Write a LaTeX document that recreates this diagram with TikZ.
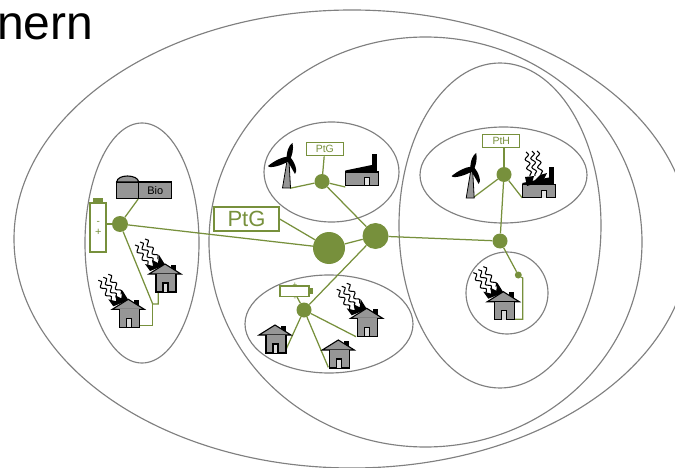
\documentclass[tikz,border=0pt]{standalone}
\usepackage{fontspec}
\setmainfont{Liberation Sans}
\usetikzlibrary{decorations.pathmorphing}
\definecolor{grn}{HTML}{77903C}
\definecolor{bld}{HTML}{969696}
\definecolor{rim}{HTML}{808080}
\tikzset{
  zone/.style={draw=rim,line width=1.15pt,fill=none},
  link/.style={draw=grn,line width=1.25pt},
  hub/.style={circle,fill=grn,draw=none,inner sep=0pt,minimum size=#1},
  lbl/.style={draw=grn,line width=1.3pt,fill=white,text=grn,inner sep=0pt,align=center},
  wisp/.style={draw=black,line width=1.05pt,decorate,decoration={snake,amplitude=2.1pt,segment length=9pt}},
  house/.pic={
    \fill[black] (6,0.5) rectangle (11,8);
    \fill[bld] (-16,10) -- (0,0) -- (16,10) -- cycle;
    \draw[black,line width=1.1pt] (-16,10) -- (0,0) -- (16,10) -- cycle;
    \fill[bld] (-9,10) rectangle (11,28);
    \draw[black,line width=1.1pt] (-9,10) -- (-9,28) -- (11,28) -- (11,10);
    \fill[bld!35] (-2,19) rectangle (3,28);
    \draw[black,line width=1.1pt] (-2,28) -- (-2,19) -- (3,19) -- (3,28);
  },
  smoke/.pic={
    \draw[wisp] (-30,-19) -- (-17,1);
    \draw[wisp] (-25,-22) -- (-12,-2);
    \draw[wisp] (-20,-25) -- (-7,-5);
    \fill[black] (-15,7) -- (-20,0) -- (-12,2) -- (-13,-4) -- (-7,-1) -- (-6,-9) -- (-1,-1) -- (0,1) -- cycle;
  },
  turbine/.pic={
    \fill[bld] (-5.5,29) -- (-1,2) -- (1,2) -- (2.5,29) -- cycle;
    \draw[black,line width=0.8pt] (-5.5,29) -- (-1,2) -- (1,2) -- (2.5,29) -- cycle;
    \fill[black] (-1.5,1) .. controls (-1.5,-8) and (1,-14) .. (4.5,-16) .. controls (6,-10) and (4,-3) .. (1.5,2) -- cycle;
    \fill[black] (0,-2.5) .. controls (-6,-2) and (-14,2) .. (-20,7) .. controls (-19,10) and (-6,6.5) .. (1,2) -- cycle;
    \fill[black] (-2,0) .. controls (1,4) and (4,10) .. (7,15) .. controls (10,13) and (7,3) .. (2,-2) -- cycle;
  },
  plant/.pic={
    \fill[black] (26.5,-17.7) rectangle (32,0);
    \fill[bld] (0,0) rectangle (33,13.3);
    \draw[black,line width=1.1pt] (0,13.3) -- (0,0) -- (33,0) -- (33,13.3) -- cycle;
    \fill[black] (0,-1.5) -- (26.5,-7) -- (26.5,0) -- (0,0) -- cycle;
    \fill[bld!25] (19,5.7) rectangle (23.7,13.3);
    \draw[black,line width=1pt] (19,13.3) -- (19,5.7) -- (23.7,5.7) -- (23.7,13.3);
  }
}
\begin{document}
\begin{tikzpicture}[x=1pt,y=-1pt]
\useasboundingbox (0,0) rectangle (675,468);
\clip (0,0) rectangle (675,468);
\node[anchor=base west,font=\fontsize{48}{48}\selectfont,inner sep=0pt] (title) at (-3,40) {nern};
% zones
\draw[zone] (352,239) ellipse [x radius=338,y radius=229];
\draw[zone] (425.5,242) ellipse [x radius=216.5,y radius=205];
\draw[zone] (500,225.5) ellipse [x radius=101,y radius=162.5];
\draw[zone] (142,243) ellipse [x radius=57,y radius=120];
\draw[zone] (331.5,172) ellipse [x radius=67.5,y radius=50];
\draw[zone] (503.5,175) ellipse [x radius=83.5,y radius=48];
\draw[zone] (329,324) ellipse [x radius=84,y radius=49];
\draw[zone] (507,293) circle [radius=41];
% hubs and labels
\node[hub=16pt] (hl) at (120,224) {};
\node[hub=32pt] (hbig) at (329,248) {};
\node[hub=26pt] (hmid) at (375.5,236) {};
\node[hub=15pt] (htop) at (322,181.5) {};
\node[hub=15pt] (hpth) at (504,174.5) {};
\node[hub=15pt] (hr) at (500,241) {};
\node[hub=15pt] (hbot) at (304,310) {};
\node[hub=7pt] (hsm) at (518.3,275) {};
\node[lbl,minimum width=65pt,minimum height=24pt,font=\fontsize{22}{22}\selectfont] (ptgbig) at (246.5,219) {PtG};
\node[lbl,minimum width=37pt,minimum height=13pt,font=\fontsize{10.5}{10.5}\selectfont] (ptg) at (324.8,149.2) {PtG};
\node[lbl,minimum width=37pt,minimum height=13pt,font=\fontsize{10.5}{10.5}\selectfont] (pth) at (501.3,140.7) {PtH};
\node[draw=black,line width=1.1pt,fill=bld,minimum width=22pt,minimum height=16.5pt,inner sep=0pt] (biodome) at (127.7,190.3) {};
\node[draw=black,line width=1.1pt,fill=bld,minimum width=33pt,minimum height=16.5pt,inner sep=0pt,font=\fontsize{11}{11}\selectfont] (bio) at (155.2,190.3) {Bio};
\node[lbl,minimum width=16pt,minimum height=49pt,fill=none] (batl) at (98,227.5) {};
\node[fill=grn,inner sep=0pt,minimum width=10pt,minimum height=5pt] (capl) at (98.3,200.3) {};
\node[text=grn,inner sep=0pt,font=\fontsize{10}{10}\selectfont] (minusl) at (98.3,223) {-};
\node[text=grn,inner sep=0pt,font=\fontsize{11}{11}\selectfont] (plusl) at (98.3,232.5) {+};
\node[lbl,minimum width=29pt,minimum height=10.5pt,fill=none] (batb) at (294.5,291.3) {};
\node[fill=grn,inner sep=0pt,minimum width=3.5pt,minimum height=6pt] (capb) at (310.8,291.3) {};
\node[text=grn,inner sep=0pt,font=\fontsize{8}{8}\selectfont] (plusb) at (295,285.5) {+};
\node[text=grn,inner sep=0pt,font=\fontsize{8}{8}\selectfont] (minusb) at (295,299) {-};
% free ends
\coordinate (j1) at (152.7,304);
\coordinate (j2) at (158.3,304);
\coordinate (h1) at (158.3,292.3);
\coordinate (j3) at (152.7,325.8);
\coordinate (h2) at (138.5,325.8);
\coordinate (wt1) at (290,188.3);
\coordinate (fa1) at (345.3,187);
\coordinate (wt2) at (474,197);
\coordinate (fa2) at (522.3,198);
\coordinate (s1) at (522.7,278);
\coordinate (s2) at (522.7,319.3);
\coordinate (s3) at (514,319.3);
\coordinate (ha) at (285,351.7);
\coordinate (hb) at (328.3,367.3);
\coordinate (hc) at (356,336.7);
\coordinate (bb) at (297,297);
% connectors
\draw[link] (hl) -- (bio.south west);
\draw[link] (hl) -- (batl.east |- hl);
\draw[link] (hl) -- (hbig);
\draw[link] (hl) -- (j1) -- (j2) -- (h1);
\draw[link] (j1) -- (j3) -- (h2);
\draw[link] (ptgbig.east) -- (hbig);
\draw[link] (hbig) -- (hmid);
\draw[link] (hmid) -- (htop);
\draw[link] (hmid) -- (hbot);
\draw[link] (hmid) -- (hr);
\draw[link] (htop) -- (wt1);
\draw[link] (htop) -- (fa1);
\draw[link] (htop) -- (ptg);
\draw[link] (hpth) -- (wt2);
\draw[link] (hpth) -- (fa2);
\draw[link] (hpth) -- (pth.south -| hpth);
\draw[link] (hpth) -- (hr);
\draw[link] (hr) -- (hsm);
\draw[link] (hsm) -- (s1) -- (s2) -- (s3);
\draw[link] (hbot) -- (bb);
\draw[link] (hbot) -- (ha);
\draw[link] (hbot) -- (hb);
\draw[link] (hbot) -- (hc);
% Bio dome
\draw[black,line width=1.1pt,fill=bld] (116.7,182) .. controls (117,178) and (122,176) .. (127.5,176) .. controls (133,176) and (138.3,178) .. (138.7,182) -- cycle;
% houses
\pic at (165,264) {smoke};
\pic at (165,264) {house};
\pic at (128.3,299.3) {smoke};
\pic at (128.3,299.3) {house};
\pic at (275,325) {house};
\pic at (338.3,340) {house};
\pic at (366.7,308.3) {smoke};
\pic at (366.7,308.3) {house};
\pic at (503.3,291.7) {smoke};
\pic at (503.3,291.7) {house};
\pic at (288,159) {turbine};
\pic at (471.7,169) {turbine};
\pic at (345.3,172) {plant};
\pic at (522.3,184.5) {plant};
\draw[wisp] (526,152) -- (530,176);
\draw[wisp] (532,151) -- (535,176);
\draw[wisp] (537,151) -- (541,175);
\fill[black] (525,177) -- (534,176) -- (532,183) -- (540,175) -- (547,173) -- (543,181) -- (527,186) -- cycle;
\end{tikzpicture}
\end{document}
